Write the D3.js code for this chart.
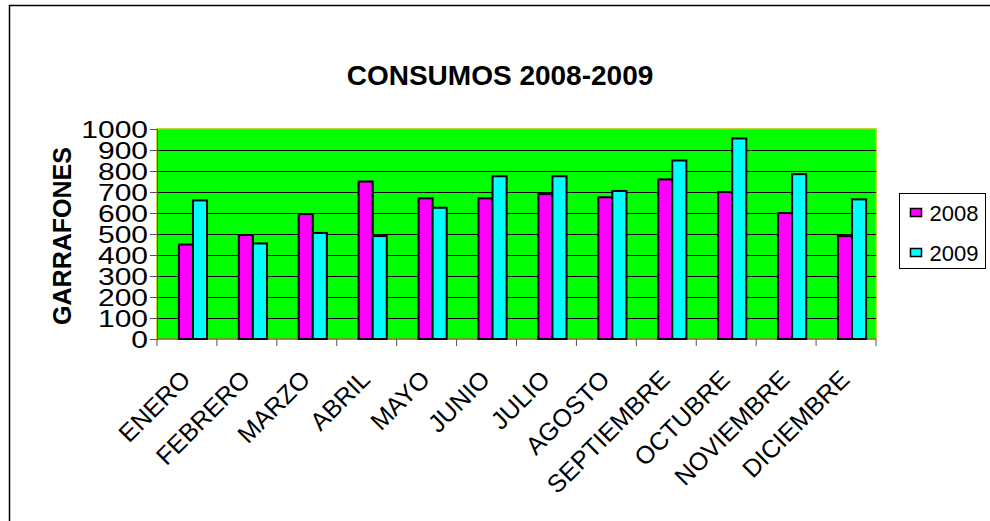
<!DOCTYPE html>
<html>
<head>
<meta charset="utf-8">
<script src="https://cdn.jsdelivr.net/npm/d3@7"></script>
<style>
	body { margin: 0; background: #fff; }
	svg { display: block; font-family: 'Liberation Sans', Arial, sans-serif; }
</style>
</head>
<body>
<div id="chart"></div>
<script>
// data
const months = ['ENERO','FEBRERO','MARZO','ABRIL','MAYO','JUNIO','JULIO','AGOSTO','SEPTIEMBRE','OCTUBRE','NOVIEMBRE','DICIEMBRE'];
const series = ['2008','2009'];
const values2008 = [450, 495, 595, 750, 670, 670, 690, 675, 760, 700, 600, 490];
const values2009 = [660, 455, 505, 490, 625, 775, 775, 705, 850, 955, 785, 665];
const yTicks = [0,100,200,300,400,500,600,700,800,900,1000];

const colors = { '2008': '#ff00ff', '2009': '#00ffff' };

const width = 990, height = 521;
const margin = { top: 129, right: 114, bottom: 182, left: 157 };
const innerWidth = width - margin.left - margin.right,
	innerHeight = height - margin.top - margin.bottom;

const svg = d3.select('#chart')
	.append('svg')
	.attr('width', width)
	.attr('height', height);

// outer frame (runs off the right and bottom edges)
svg.append('rect')
	.attr('x', 9.5).attr('y', 5.5)
	.attr('width', 1000).attr('height', 600)
	.attr('fill', 'none')
	.attr('stroke', '#000')
	.attr('stroke-width', 1.5);

// ----------------------------------
// SCALES
// ----------------------------------
const xScale = d3.scaleBand()
	.domain(months)
	.range([0, innerWidth]);

const xInner = d3.scaleBand()
	.domain(series)
	.range([xScale.bandwidth() * 0.365, xScale.bandwidth() * 0.835]);

const yScale = d3.scaleLinear()
	.domain([0, 1000])
	.range([innerHeight, 0]);

const g = svg.append('g')
	.attr('transform', `translate(${margin.left}, ${margin.top})`);

// plot background
g.append('rect')
	.attr('width', innerWidth)
	.attr('height', innerHeight)
	.attr('fill', '#00ff00')
	.attr('stroke', '#b4c800')
	.attr('stroke-width', 1.5);

// gridlines
g.selectAll('.grid')
	.data(yTicks.filter(t => t > 0 && t < 1000))
	.join('line')
	.attr('class', 'grid')
	.attr('x1', 0).attr('x2', innerWidth)
	.attr('y1', d => Math.round(yScale(d)) + 0.5)
	.attr('y2', d => Math.round(yScale(d)) + 0.5)
	.attr('stroke', '#000')
	.attr('stroke-width', 1);

// ----------------------------------
// AXES
// ----------------------------------
const yAxis = g.append('g')
	.call(d3.axisLeft(yScale).tickValues(yTicks).tickFormat(d3.format('d')).tickSize(7).tickPadding(4));
yAxis.select('.domain').attr('stroke', '#555');
yAxis.selectAll('.tick line').attr('stroke', '#555');
// the tick numbers in the picture are a bit wider than plain Arial
const tickStretch = 1.25;
yAxis.selectAll('.tick text')
	.attr('fill', '#000')
	.attr('x', -9 / tickStretch)
	.attr('dy', '0.36em')
	.attr('transform', `scale(${tickStretch}, 1)`)
	.style('font-size', '24px');

const xAxis = g.append('g')
	.attr('transform', `translate(0, ${innerHeight})`);
xAxis.append('line')
	.attr('x1', 0).attr('x2', innerWidth)
	.attr('stroke', '#555');
xAxis.selectAll('.tick')
	.data(months.concat(['end']))
	.join('line')
	.attr('class', 'tick')
	.attr('x1', (d, i) => i < months.length ? xScale(d) : innerWidth)
	.attr('x2', (d, i) => i < months.length ? xScale(d) : innerWidth)
	.attr('y1', 0).attr('y2', 7)
	.attr('stroke', '#555');

xAxis.selectAll('.label')
	.data(months)
	.join('text')
	.attr('class', 'label')
	.attr('text-anchor', 'end')
	.attr('transform', d => `translate(${xScale(d) + xScale.bandwidth() / 2 + 5}, 42) rotate(-45)`)
	.style('font-size', '25px')
	.text(d => d);

// ----------------------------------
// BARS
// ----------------------------------
const rows = months.map((m, i) => ({ month: m, '2008': values2008[i], '2009': values2009[i] }));

g.selectAll('.month')
	.data(rows)
	.join('g')
	.attr('class', 'month')
	.attr('transform', d => `translate(${xScale(d.month)}, 0)`)
	.selectAll('rect')
	.data(d => series.map(s => ({ key: s, value: d[s] })))
	.join('rect')
	.attr('x', d => xInner(d.key))
	.attr('y', d => yScale(d.value))
	.attr('width', xInner.bandwidth())
	.attr('height', d => innerHeight - yScale(d.value))
	.attr('fill', d => colors[d.key])
	.attr('stroke', '#000')
	.attr('stroke-width', 2);

// ----------------------------------
// TITLES
// ----------------------------------
svg.append('text')
	.attr('x', 500).attr('y', 85)
	.attr('text-anchor', 'middle')
	.style('font-size', '28px')
	.style('font-weight', 'bold')
	.text('CONSUMOS 2008-2009');

svg.append('text')
	.attr('text-anchor', 'middle')
	.attr('transform', `translate(71, ${margin.top + innerHeight / 2 + 2}) rotate(-90)`)
	.style('font-size', '25px')
	.style('font-weight', 'bold')
	.text('GARRAFONES');

// ----------------------------------
// LEGEND
// ----------------------------------
const legend = svg.append('g')
	.attr('transform', 'translate(899.5, 193.5)');
legend.append('rect')
	.attr('width', 86).attr('height', 75)
	.attr('fill', '#fff')
	.attr('stroke', '#000');

const item = legend.selectAll('.item')
	.data(series)
	.join('g')
	.attr('class', 'item')
	.attr('transform', (d, i) => `translate(11, ${15 + i * 40})`);
item.append('rect')
	.attr('width', 11).attr('height', 8)
	.attr('fill', d => colors[d])
	.attr('stroke', '#000')
	.attr('stroke-width', 1.5);
item.append('text')
	.attr('x', 19).attr('y', 12)
	.style('font-size', '22px')
	.text(d => d);
</script>
</body>
</html>
